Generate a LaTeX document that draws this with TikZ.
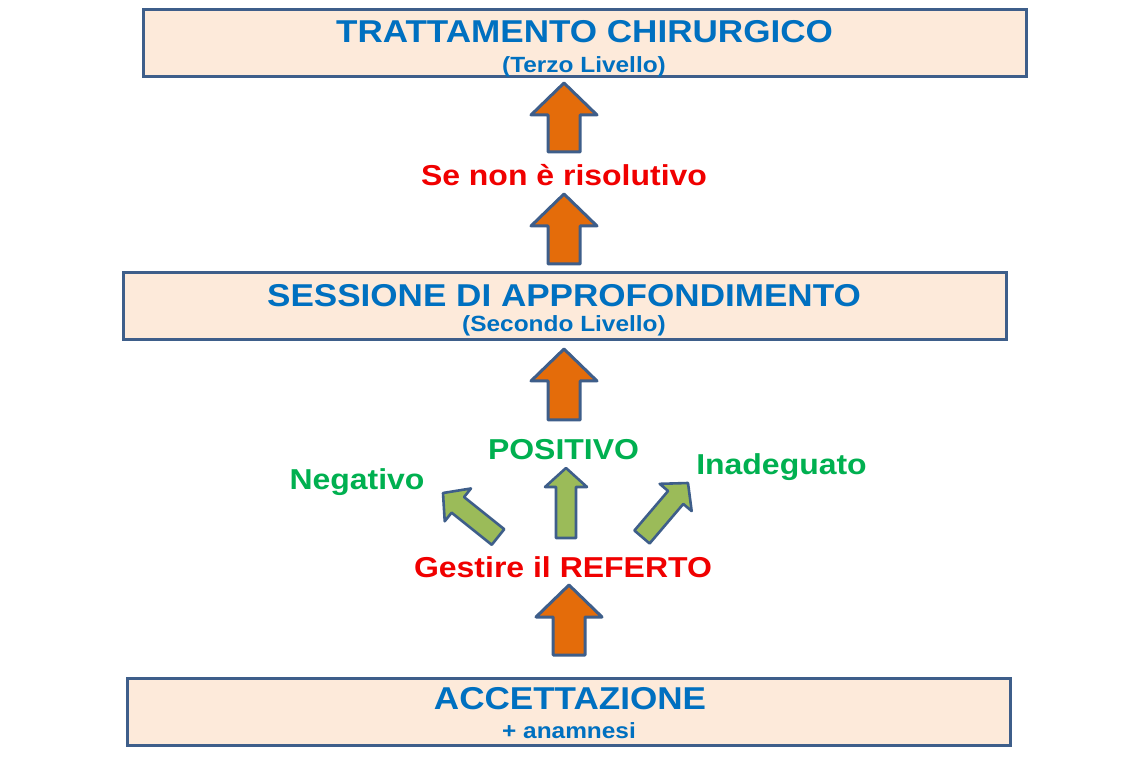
\documentclass[tikz,border=0pt]{standalone}
\usepackage{fontspec}
\setmainfont[FakeStretch=1.11]{Liberation Sans}
\usetikzlibrary{positioning,calc}

\definecolor{boxfill}{HTML}{FDEADA}
\definecolor{boxline}{HTML}{3E5E8A}
\definecolor{titleblue}{HTML}{0070C0}
\definecolor{redtxt}{HTML}{F00000}
\definecolor{greentxt}{HTML}{00B050}
\definecolor{orangefill}{HTML}{E46C0A}
\definecolor{greenfill}{HTML}{9BBB59}

% block arrow: style, tail, tip, shaft half width, head half width, head length
\newcommand{\blockarrow}[6]{
	\coordinate (hb) at ($(#3)!#6!(#2)$);
	\draw[#1] ($(#2)!#4!90:(#3)$) -- ($(hb)!#4!90:(#3)$) -- ($(hb)!#5!90:(#3)$) -- (#3)
		-- ($(hb)!#5!-90:(#3)$) -- ($(hb)!#4!-90:(#3)$) -- ($(#2)!#4!-90:(#3)$) -- cycle;
}

\begin{document}
\begin{tikzpicture}[x=0.5pt,y=-0.5pt,
	level/.style={draw=boxline,line width=1.5pt,fill=boxfill,minimum width=441.5pt,minimum height=33.5pt,inner sep=0},
	big/.style={anchor=base,inner sep=0,text=titleblue,font=\bfseries\fontsize{15.8}{18}\selectfont},
	small/.style={anchor=base,inner sep=0,text=titleblue,font=\bfseries\fontsize{11}{13}\selectfont},
	redlabel/.style={anchor=base,inner sep=0,text=redtxt,font=\bfseries\fontsize{14.4}{17}\selectfont},
	greenlabel/.style={anchor=base,inner sep=0,text=greentxt,font=\bfseries\fontsize{14.4}{17}\selectfont},
	orangearrow/.style={draw=boxline,line width=1.5pt,line join=round,fill=orangefill},
	greenarrow/.style={draw=boxline,line width=1.3pt,line join=round,fill=greenfill}]

\useasboundingbox (0,0) rectangle (1130,764);

\node[level](terzo) at (584.5,43.5) {};
\node[level](secondo) at (564.5,306.5) {};
\node[level](primo) at (569,711.5) {};

\node[big](t1) at (584.5,43) {TRATTAMENTO CHIRURGICO};
\node[small](s1) at (584,73) {(Terzo Livello)};
\node[big](t2) at (564,307) {SESSIONE DI APPROFONDIMENTO};
\node[small](s2) at (564,332) {(Secondo Livello)};
\node[big](t3) at (570,709) {ACCETTAZIONE};
\node[small](s3) at (569,738) {+ anamnesi};

\node[redlabel](ris) at (564,186) {Se non è risolutivo};
\node[redlabel](ref) at (563,577) {Gestire il REFERTO};
\node[greenlabel](pos) at (563.5,460) {POSITIVO};
\node[greenlabel](neg) at (357,490) {Negativo};
\node[greenlabel](ina) at (781.5,474) {Inadeguato};

\coordinate (a1) at (564,152); \coordinate (b1) at (564,83);
\coordinate (a2) at (564,264); \coordinate (b2) at (564,194);
\coordinate (a3) at (564,420); \coordinate (b3) at (564,349);
\coordinate (a4) at (569,655); \coordinate (b4) at (569,585);
\coordinate (gm) at (566,538); \coordinate (hm) at (566,468);
\coordinate (gl) at (498,537); \coordinate (hl) at (443,493);
\coordinate (gr) at (642,537); \coordinate (hr) at (688,483);

\foreach \i in {1,...,4}{
	\blockarrow{orangearrow}{a\i}{b\i}{8pt}{16.5pt}{16pt}
}
\foreach \x/\y in {gm/hm,gl/hl,gr/hr}{
	\blockarrow{greenarrow}{\x}{\y}{5pt}{10.5pt}{9.5pt}
}
\end{tikzpicture}
\end{document}
